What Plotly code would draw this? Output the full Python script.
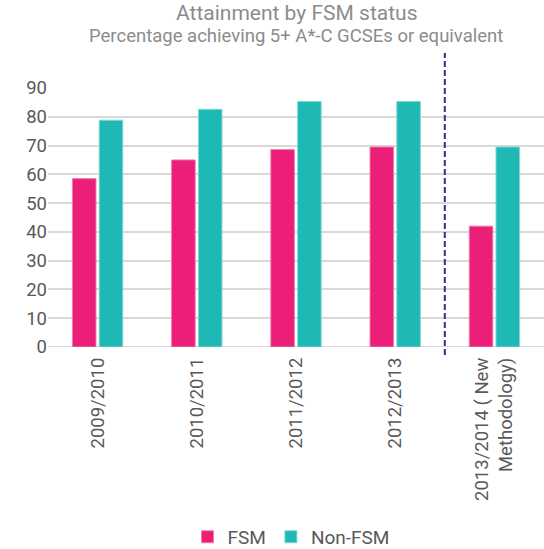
import plotly.graph_objects as go

categories = ["2009/2010", "2010/2011", "2011/2012", "2012/2013", "2013/2014 ( New<br>Methodology)"]
fsm = [58.5, 65.0, 68.6, 69.5, 42.0]
non_fsm = [78.8, 82.6, 85.3, 85.3, 69.5]
y_ticks = [0, 10, 20, 30, 40, 50, 60, 70, 80, 90]

FONT = "Roboto, 'DejaVu Sans', sans-serif"
GRAY = "#595959"

fig = go.Figure()
fig.add_trace(go.Bar(name="FSM", x=categories, y=fsm, marker=dict(color="#EB1E78", line=dict(color="#F27AAE", width=1))))
fig.add_trace(go.Bar(name="Non-FSM", x=categories, y=non_fsm, marker=dict(color="#1EB8B5", line=dict(color="#7FD8D5", width=1))))

fig.add_shape(type="line", xref="x", yref="paper", x0=3.5, x1=3.5, y0=-0.031, y1=1.135,
              line=dict(color="#2E3192", width=2, dash="6px,3px"))

fig.add_annotation(text="Attainment by FSM status", xref="paper", yref="paper", x=0.5, y=1.29,
                   xanchor="center", yanchor="middle", showarrow=False,
                   font=dict(size=21, color="#8C8C8C", family=FONT))
fig.add_annotation(text="Percentage achieving 5+ A*-C GCSEs or equivalent", xref="paper", yref="paper", x=0.5, y=1.20,
                   xanchor="center", yanchor="middle", showarrow=False,
                   font=dict(size=18.5, color="#8C8C8C", family=FONT))

fig.update_layout(
    width=544, height=549,
    margin=dict(l=48, r=0, t=88, b=202, autoexpand=False),
    paper_bgcolor="white", plot_bgcolor="white",
    font=dict(family=FONT, color=GRAY, size=18),
    barmode="group", bargap=0.46, bargroupgap=0.12,
    showlegend=True,
    legend=dict(orientation="h", x=0.49, xanchor="center", yref="container", y=0.022, yanchor="middle",
                font=dict(size=19, color=GRAY), traceorder="normal"),
    xaxis=dict(tickangle=-90, showgrid=False, showline=False, ticks="", automargin=False,
               ticklabelstandoff=6, tickfont=dict(size=18.5, color=GRAY)),
    yaxis=dict(range=[0, 90], tickvals=y_ticks, showgrid=True, gridcolor="#D9D9D9", gridwidth=2,
               zeroline=False, showline=False, ticks="", automargin=False,
               tickfont=dict(size=18.5, color=GRAY)),
)
fig.add_hline(y=0, line=dict(color="#D9D9D9", width=2), layer="below")

fig.write_html("out.html", config={"displayModeBar": False},
               post_script="document.body.style.margin='0';document.body.style.overflow='hidden';")
